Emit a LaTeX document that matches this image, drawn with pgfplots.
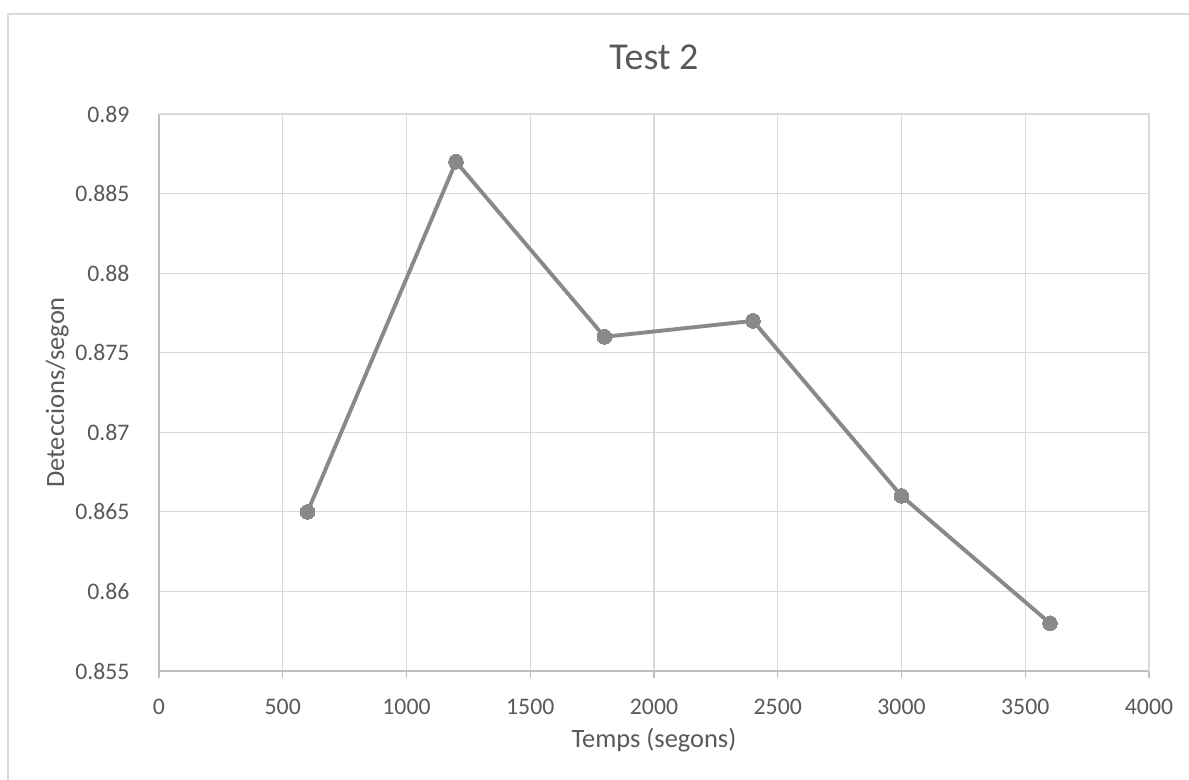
\documentclass[border=0pt]{standalone}
\usepackage{pgfplots}
\pgfplotsset{compat=1.18}
\usepackage{fontspec}
\setmainfont{Carlito}
\definecolor{txtgray}{RGB}{89,89,89}
\definecolor{gridgray}{RGB}{217,217,217}
\definecolor{axgray}{RGB}{191,191,191}
\definecolor{linegray}{RGB}{137,137,137}
\begin{document}
\begin{tikzpicture}
\useasboundingbox (0,0) rectangle (891.75pt,585pt);
\fill[white] (0,0) rectangle (891.75pt,585pt);
\draw[gridgray, line width=1.2pt] (6pt,0) -- (6pt,574.5pt) -- (891.75pt,574.5pt);
\begin{axis}[
  at={(119.25pt,81.75pt)}, anchor=south west,
  scale only axis, width=742.5pt, height=417.75pt,
  xmin=0, xmax=4000, ymin=0.855, ymax=0.89,
  xtick={0,500,...,4000},
  ytick={0.855,0.86,0.865,0.87,0.875,0.88,0.885,0.89},
  scaled ticks=false,
  /pgf/number format/assume math mode=true,
  xticklabel style={/pgf/number format/1000 sep={}, anchor=base, inner sep=0pt, yshift=-28pt, font=\fontsize{17.8}{20}\selectfont, text=txtgray},
  yticklabel style={/pgf/number format/.cd, fixed, precision=3, 1000 sep={}, /tikz/.cd, anchor=east, inner sep=0pt, xshift=-17pt, font=\fontsize{17.8}{20}\selectfont, text=txtgray},
  axis lines*=left,
  axis line style={axgray, line width=1.1pt, -},
  grid=major,
  major grid style={gridgray, line width=0.9pt},
  tick align=outside,
  major tick length=5pt,
  xtick style={axgray, line width=1.1pt},
  ytick style={draw=none},
  clip=false,
]
\draw[gridgray, line width=0.9pt] (rel axis cs:0,1) -- (rel axis cs:1,1) -- (rel axis cs:1,0);
\addplot[linegray, line width=2.9pt, mark=*, mark size=5.5pt, mark options={fill=linegray, draw=linegray, line width=0pt}]
coordinates {(600,0.865) (1200,0.887) (1800,0.876) (2400,0.877) (3000,0.866) (3600,0.858)};
\node[anchor=base, inner sep=0pt, text=txtgray, font=\fontsize{28.5}{33}\selectfont] at ([yshift=33pt]rel axis cs:0.5,1) {Test 2};
\node[anchor=base, inner sep=0pt, text=txtgray, font=\fontsize{19.8}{23}\selectfont] at ([yshift=-57.75pt]rel axis cs:0.5,0) {Temps (segons)};
\node[anchor=base, inner sep=0pt, rotate=90, text=txtgray, font=\fontsize{19.8}{23}\selectfont] at ([xshift=-71.25pt]rel axis cs:0,0.5) {Deteccions/segon};
\end{axis}
\end{tikzpicture}
\end{document}
